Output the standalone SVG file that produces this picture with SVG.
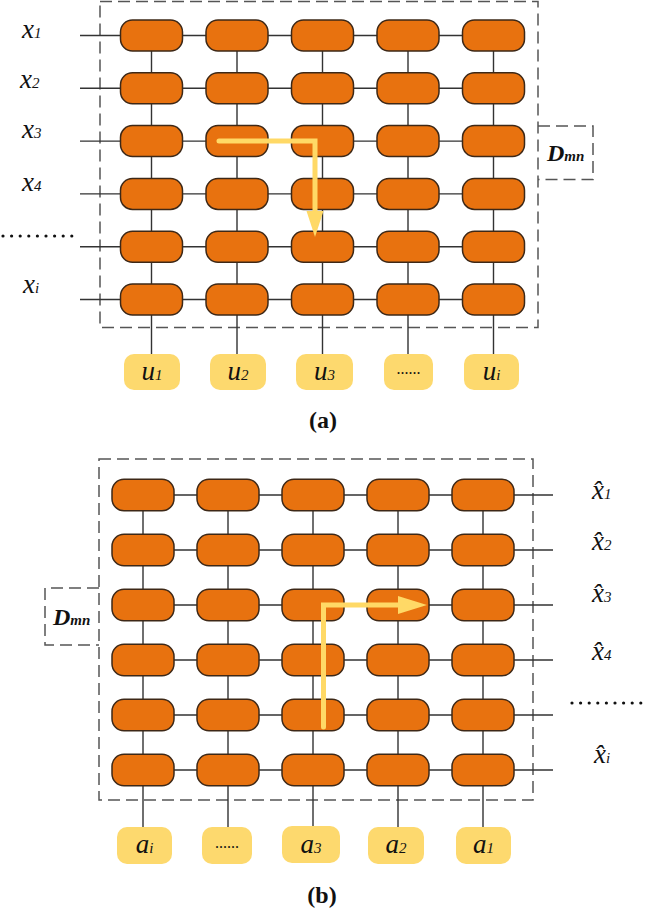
<svg xmlns="http://www.w3.org/2000/svg" width="646" height="911" viewBox="0 0 646 911">
<style>
.n{fill:#E8720F;stroke:#3d2817;stroke-width:1.5}
.y{fill:#FDD96E}
.c{stroke:#333;stroke-width:1.4;fill:none}
.d{stroke:#555;stroke-width:1.5;fill:none;stroke-dasharray:12 6}
.dot{stroke:#111;stroke-width:3.2;stroke-linecap:round;stroke-dasharray:0 8.6;fill:none}
.ar{stroke:#FFD966;stroke-width:5;fill:none;stroke-linecap:round}
.arh{fill:#FFD966}
.l{font-family:"Liberation Serif",serif;font-style:italic;font-size:27px;fill:#111}
.s{font-size:15px}
.dm{font-family:"Liberation Serif",serif;font-style:italic;font-weight:bold;font-size:24px;fill:#111}
.cap{font-family:"Liberation Serif",serif;font-weight:bold;font-size:24px;fill:#111;text-anchor:middle}
.m{text-anchor:middle}
.dd{font-family:"Liberation Serif",serif;font-size:16px;fill:#111;text-anchor:middle}
</style>

<g id="frames">
<rect class="d" x="100" y="1.5" width="438" height="326"/>
<path class="d" d="M538,126 H593 V179.5 H538"/>
<rect class="d" x="99" y="459" width="434" height="341"/>
<path class="d" d="M99,588 H45 V645 H99"/>
</g>

<g id="connectors">
<path class="c" d="M80,35.5H493.5 M80,88.3H493.5 M80,141.1H493.5 M80,193.9H493.5 M80,246.7H493.5 M80,299.5H493.5"/>
<path class="c" d="M151.5,35.5V354 M237,35.5V354 M322.5,35.5V354 M408,35.5V354 M493.5,35.5V354"/>
<path class="c" d="M143,495H553 M143,550H553 M143,605H553 M143,660H553 M143,715H553 M143,770H553"/>
<path class="c" d="M143,495V827 M228,495V827 M313,495V827 M398,495V827 M483,495V827"/>
</g>

<g id="gridA">
<g id="a-r1"><rect class="n" x="120.5" y="20" width="62" height="31" rx="12"/><rect class="n" x="206" y="20" width="62" height="31" rx="12"/><rect class="n" x="291.5" y="20" width="62" height="31" rx="12"/><rect class="n" x="377" y="20" width="62" height="31" rx="12"/><rect class="n" x="462.5" y="20" width="62" height="31" rx="12"/></g>
<g id="a-r2"><rect class="n" x="120.5" y="72.8" width="62" height="31" rx="12"/><rect class="n" x="206" y="72.8" width="62" height="31" rx="12"/><rect class="n" x="291.5" y="72.8" width="62" height="31" rx="12"/><rect class="n" x="377" y="72.8" width="62" height="31" rx="12"/><rect class="n" x="462.5" y="72.8" width="62" height="31" rx="12"/></g>
<g id="a-r3"><rect class="n" x="120.5" y="125.6" width="62" height="31" rx="12"/><rect class="n" x="206" y="125.6" width="62" height="31" rx="12"/><rect class="n" x="291.5" y="125.6" width="62" height="31" rx="12"/><rect class="n" x="377" y="125.6" width="62" height="31" rx="12"/><rect class="n" x="462.5" y="125.6" width="62" height="31" rx="12"/></g>
<g id="a-r4"><rect class="n" x="120.5" y="178.4" width="62" height="31" rx="12"/><rect class="n" x="206" y="178.4" width="62" height="31" rx="12"/><rect class="n" x="291.5" y="178.4" width="62" height="31" rx="12"/><rect class="n" x="377" y="178.4" width="62" height="31" rx="12"/><rect class="n" x="462.5" y="178.4" width="62" height="31" rx="12"/></g>
<g id="a-r5"><rect class="n" x="120.5" y="231.2" width="62" height="31" rx="12"/><rect class="n" x="206" y="231.2" width="62" height="31" rx="12"/><rect class="n" x="291.5" y="231.2" width="62" height="31" rx="12"/><rect class="n" x="377" y="231.2" width="62" height="31" rx="12"/><rect class="n" x="462.5" y="231.2" width="62" height="31" rx="12"/></g>
<g id="a-r6"><rect class="n" x="120.5" y="284" width="62" height="31" rx="12"/><rect class="n" x="206" y="284" width="62" height="31" rx="12"/><rect class="n" x="291.5" y="284" width="62" height="31" rx="12"/><rect class="n" x="377" y="284" width="62" height="31" rx="12"/><rect class="n" x="462.5" y="284" width="62" height="31" rx="12"/></g>
</g>

<g id="gridB">
<g id="b-r1"><rect class="n" x="112" y="479.3" width="62" height="31.5" rx="12"/><rect class="n" x="197" y="479.3" width="62" height="31.5" rx="12"/><rect class="n" x="282" y="479.3" width="62" height="31.5" rx="12"/><rect class="n" x="367" y="479.3" width="62" height="31.5" rx="12"/><rect class="n" x="452" y="479.3" width="62" height="31.5" rx="12"/></g>
<g id="b-r2"><rect class="n" x="112" y="534.3" width="62" height="31.5" rx="12"/><rect class="n" x="197" y="534.3" width="62" height="31.5" rx="12"/><rect class="n" x="282" y="534.3" width="62" height="31.5" rx="12"/><rect class="n" x="367" y="534.3" width="62" height="31.5" rx="12"/><rect class="n" x="452" y="534.3" width="62" height="31.5" rx="12"/></g>
<g id="b-r3"><rect class="n" x="112" y="589.3" width="62" height="31.5" rx="12"/><rect class="n" x="197" y="589.3" width="62" height="31.5" rx="12"/><rect class="n" x="282" y="589.3" width="62" height="31.5" rx="12"/><rect class="n" x="367" y="589.3" width="62" height="31.5" rx="12"/><rect class="n" x="452" y="589.3" width="62" height="31.5" rx="12"/></g>
<g id="b-r4"><rect class="n" x="112" y="644.3" width="62" height="31.5" rx="12"/><rect class="n" x="197" y="644.3" width="62" height="31.5" rx="12"/><rect class="n" x="282" y="644.3" width="62" height="31.5" rx="12"/><rect class="n" x="367" y="644.3" width="62" height="31.5" rx="12"/><rect class="n" x="452" y="644.3" width="62" height="31.5" rx="12"/></g>
<g id="b-r5"><rect class="n" x="112" y="699.3" width="62" height="31.5" rx="12"/><rect class="n" x="197" y="699.3" width="62" height="31.5" rx="12"/><rect class="n" x="282" y="699.3" width="62" height="31.5" rx="12"/><rect class="n" x="367" y="699.3" width="62" height="31.5" rx="12"/><rect class="n" x="452" y="699.3" width="62" height="31.5" rx="12"/></g>
<g id="b-r6"><rect class="n" x="112" y="754.3" width="62" height="31.5" rx="12"/><rect class="n" x="197" y="754.3" width="62" height="31.5" rx="12"/><rect class="n" x="282" y="754.3" width="62" height="31.5" rx="12"/><rect class="n" x="367" y="754.3" width="62" height="31.5" rx="12"/><rect class="n" x="452" y="754.3" width="62" height="31.5" rx="12"/></g>
</g>

<g id="u1"><rect class="y" x="124" y="354" width="56" height="36" rx="10"/><text class="l m" x="152" y="380">u<tspan class="s">1</tspan></text></g>
<g id="u2"><rect class="y" x="210" y="354" width="56" height="36" rx="10"/><text class="l m" x="238" y="380">u<tspan class="s">2</tspan></text></g>
<g id="u3"><rect class="y" x="296" y="354" width="57" height="36" rx="10"/><text class="l m" x="324.5" y="380">u<tspan class="s">3</tspan></text></g>
<g id="u-dots"><rect class="y" x="384" y="354" width="49" height="36" rx="10"/><text class="dd" x="408.5" y="374">......</text></g>
<g id="ui"><rect class="y" x="464" y="354" width="55" height="36" rx="10"/><text class="l m" x="491.5" y="380">u<tspan class="s">i</tspan></text></g>

<g id="ai"><rect class="y" x="117" y="827" width="55" height="37" rx="10"/><text class="l m" x="144.5" y="853">a<tspan class="s">i</tspan></text></g>
<g id="a-dots"><rect class="y" x="202" y="827" width="50" height="37" rx="10"/><text class="dd" x="227" y="848">......</text></g>
<g id="a3"><rect class="y" x="282" y="826" width="58" height="37" rx="10"/><text class="l m" x="311" y="853">a<tspan class="s">3</tspan></text></g>
<g id="a2"><rect class="y" x="368" y="827" width="56" height="37" rx="10"/><text class="l m" x="396" y="853">a<tspan class="s">2</tspan></text></g>
<g id="a1"><rect class="y" x="456" y="827" width="55" height="37" rx="10"/><text class="l m" x="483.5" y="853">a<tspan class="s">1</tspan></text></g>

<g id="xlabels">
<text class="l" x="22" y="38">x<tspan class="s">1</tspan></text>
<text class="l" x="20" y="88">x<tspan class="s">2</tspan></text>
<text class="l" x="22" y="138">x<tspan class="s">3</tspan></text>
<text class="l" x="22" y="191">x<tspan class="s">4</tspan></text>
<text class="l" x="23" y="293">x<tspan class="s">i</tspan></text>
<path class="dot" d="M3,236H73"/>
</g>

<g id="xhatlabels">
<text class="l" x="592" y="499">x̂<tspan class="s">1</tspan></text>
<text class="l" x="592" y="550">x̂<tspan class="s">2</tspan></text>
<text class="l" x="592" y="602">x̂<tspan class="s">3</tspan></text>
<text class="l" x="592" y="660">x̂<tspan class="s">4</tspan></text>
<text class="l" x="594" y="763">x̂<tspan class="s">i</tspan></text>
<path class="dot" d="M572,703H644"/>
</g>

<g id="dmnA"><text class="dm" x="547" y="161">D<tspan class="s">mn</tspan></text></g>
<g id="dmnB"><text class="dm" x="53" y="625">D<tspan class="s">mn</tspan></text></g>

<g id="arrowA">
<path class="ar" d="M219,141H315V213"/>
<polygon class="arh" points="306.5,211 323.5,211 315,237"/>
</g>
<g id="arrowB">
<path class="ar" d="M323.5,727V605H400"/>
<polygon class="arh" points="398,596 398,614 427,605"/>
</g>

<text class="cap" x="323" y="428">(a)</text>
<text class="cap" x="322" y="903">(b)</text>
</svg>
